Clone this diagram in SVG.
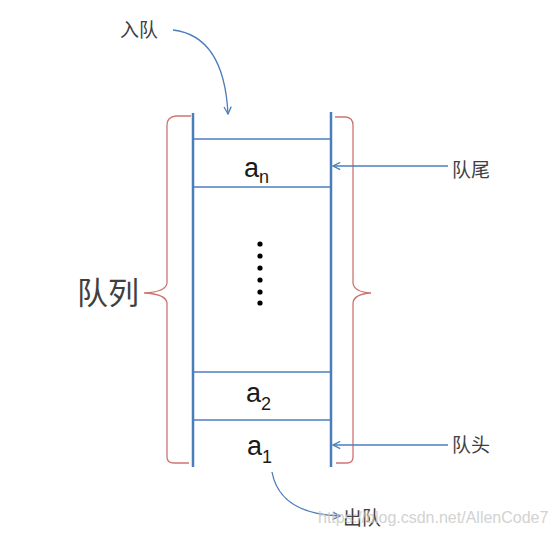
<svg xmlns="http://www.w3.org/2000/svg" width="559" height="537" viewBox="0 0 559 537">
<defs>
<style>
.q{stroke:#4a7ebb;stroke-width:2.5;fill:none}
.h{stroke:#4a7ebb;stroke-width:1.3;fill:none}
.b{stroke:#c0504d;stroke-width:1.3;fill:none;opacity:0.8}
.c{stroke:#4a7ebb;stroke-width:1.3;fill:none}
.lbl{font-family:"Liberation Sans","Noto Sans CJK SC",sans-serif;fill:#404040}
.el{font-family:"Liberation Sans","Noto Sans CJK SC",sans-serif;fill:#1a1a1a}
</style>
<marker id="ah" viewBox="0 0 10 10" refX="9" refY="5" markerWidth="9" markerHeight="9" markerUnits="userSpaceOnUse" orient="auto">
<path d="M1,1 L9,5 L1,9" fill="none" stroke="#4a7ebb" stroke-width="1.4"/>
</marker>
</defs>
<rect width="559" height="537" fill="#fff"/>
<g id="queue">
<line class="q" x1="193" y1="113" x2="193" y2="467"/>
<line class="q" x1="331" y1="112" x2="331" y2="467"/>
<line class="h" x1="193" y1="139" x2="331" y2="139"/>
<line class="h" x1="193" y1="187" x2="331" y2="187"/>
<line class="h" x1="193" y1="372" x2="331" y2="372"/>
<line class="h" x1="193" y1="420" x2="331" y2="420"/>
</g>
<g id="an"><text class="el" x="244" y="177" font-size="27">a<tspan font-size="18" dy="6">n</tspan></text></g>
<g id="dots" fill="#000">
<circle cx="260" cy="244" r="2.6"/><circle cx="260" cy="256" r="2.6"/><circle cx="260" cy="268" r="2.6"/>
<circle cx="260" cy="280" r="2.6"/><circle cx="260" cy="292" r="2.6"/><circle cx="260" cy="303" r="2.6"/>
</g>
<g id="a2"><text class="el" x="246" y="402" font-size="27">a<tspan font-size="18" dy="8">2</tspan></text></g>
<g id="a1"><text class="el" x="247" y="455" font-size="27">a<tspan font-size="18" dy="8">1</tspan></text></g>
<g id="brace-left">
<path class="b" d="M191,116 L176,116 Q167,117 167,125 L167,283 Q166,292 144,293 Q166,294 167,303 L167,457 Q167,463 174,463 L189,463"/>
</g>
<g id="brace-right">
<path class="b" d="M335,117 L346,117 Q353,118 353,125 L353,283 Q354,292 371,293 Q354,294 353,303 L353,457 Q353,463 347,463 L336,463"/>
</g>
<g id="label-queue"><text class="lbl" x="77" y="304" font-size="31">队列</text></g>
<g id="label-enqueue"><text class="lbl" x="120" y="37" font-size="19">入队</text></g>
<g id="label-tail"><text class="lbl" x="452" y="177" font-size="19">队尾</text></g>
<g id="label-head"><text class="lbl" x="452" y="452" font-size="19">队头</text></g>
<g id="label-dequeue"><text class="lbl" x="343" y="525" font-size="19">出队</text></g>
<g id="connectors">
<path class="c" d="M173,30 Q224,36 228,114" marker-end="url(#ah)"/>
<path class="c" d="M448,166 L333,166" marker-end="url(#ah)"/>
<path class="c" d="M448,445 L333,445" marker-end="url(#ah)"/>
<path class="c" d="M272,472 Q280,514 340,516" marker-end="url(#ah)"/>
</g>
<text x="318" y="523" font-family="Liberation Sans,sans-serif" font-size="16" fill="#c8c8c8" opacity="0.8">https://blog.csdn.net/AllenCode7</text>
</svg>
